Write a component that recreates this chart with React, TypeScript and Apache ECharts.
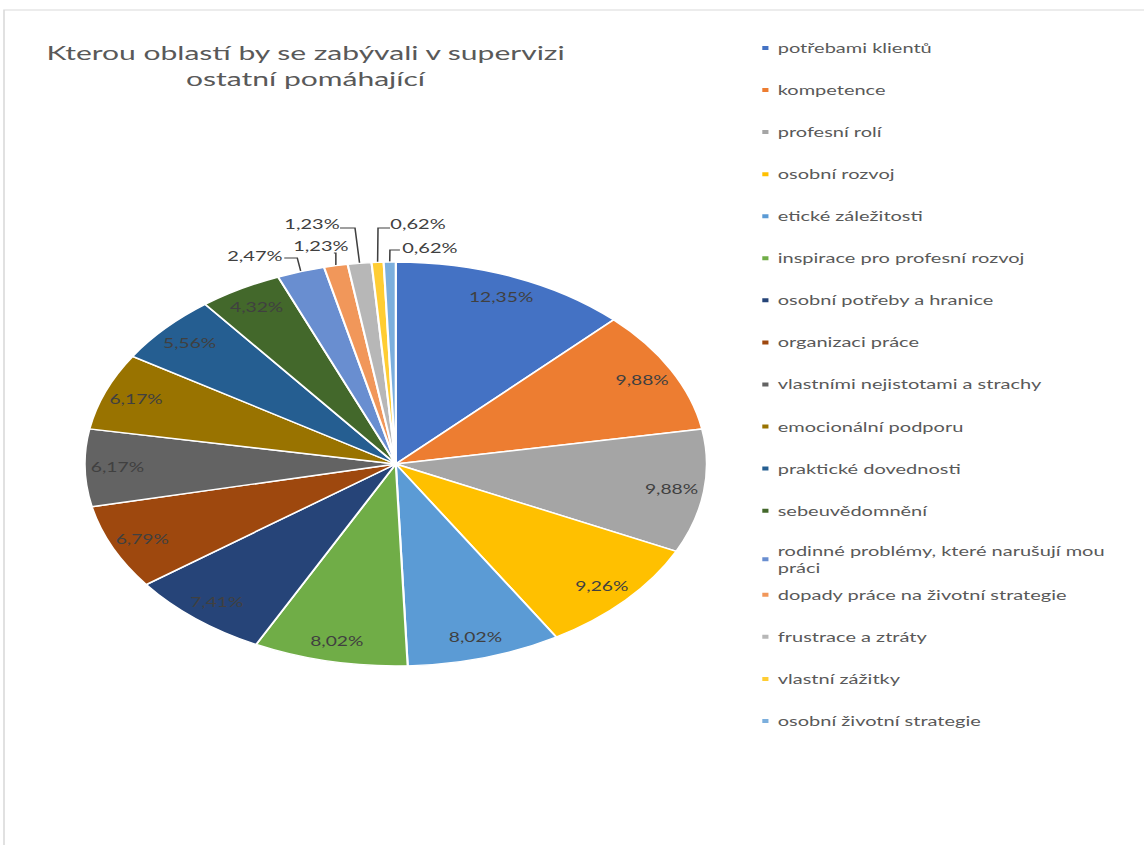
import React, { useEffect, useRef } from 'react';
import * as echarts from 'echarts';

const titleText = 'Kterou oblastí by se zabývali v supervizi\nostatní pomáhající';

const categories = [
  'potřebami klientů',
  'kompetence',
  'profesní rolí',
  'osobní rozvoj',
  'etické záležitosti',
  'inspirace pro profesní rozvoj',
  'osobní potřeby a hranice',
  'organizaci práce',
  'vlastními nejistotami a strachy',
  'emocionální podporu',
  'praktické dovednosti',
  'sebeuvědomnění',
  'rodinné problémy, které narušují mou práci',
  'dopady práce na životní strategie',
  'frustrace a ztráty',
  'vlastní zážitky',
  'osobní životní strategie',
];

const values = [12.35, 9.88, 9.88, 9.26, 8.02, 8.02, 7.41, 6.79, 6.17, 6.17, 5.56, 4.32, 2.47, 1.23, 1.23, 0.62, 0.62];

const colors = [
  '#4472C4', '#ED7D31', '#A5A5A5', '#FFC000', '#5B9BD5', '#70AD47',
  '#264478', '#9E480E', '#636363', '#997300', '#255E91', '#43682B',
  '#698ED0', '#F1975A', '#B7B7B7', '#FFCD33', '#7CAFDD',
];

// small slices get outside labels with leader lines
const outsideFrom = 12;
// legend entry whose text wraps onto a second line (last word goes down)
const wrappedLegendIndex = 12;

// leader-line styling for the outside labels (offsets from slice edge, in screen px):
// [elbow dx, elbow dy, end dx, label dx, label dy]
const leaderOffsets: Record<number, number[]> = {
  12: [-3.6, -13.7, -16.6, -46, -15.2],
  13: [0, -12.8, -2, -15, -19.8],
  14: [-4.6, -35.4, -19.6, -47.6, -39.4],
  15: [0.4, -34.3, 12.4, 40.4, -38.3],
  16: [0.2, -12, 10.2, 40.2, -14],
};

const SX = 1.54;
const W = 1144;
const H = 845;

export default function App() {
  const ref = useRef<HTMLDivElement>(null);
  useEffect(() => {
    const chart = echarts.init(ref.current!, null, { renderer: 'svg' });
    const fmt = (v: number) => v.toFixed(2).replace('.', ',') + '%';
    const font = 'Lato, "Open Sans", sans-serif';
    const R = 202;
    const center = [257, 464];
    const LH = 17;
    const STEP = 42.06;
    const LEG_TOP = 39.5;

    const mainData = values.map((v, i) => ({
      name: categories[i],
      value: v,
      itemStyle: { color: colors[i] },
      label: { show: i >= outsideFrom },
      labelLine: { show: i >= outsideFrom },
    }));
    const overlayData = values.map((v, i) => ({
      name: categories[i],
      value: v,
      label: { show: i < outsideFrom },
    }));
    const legendItem = (c: string, i: number) =>
      i === wrappedLegendIndex ? { name: c, textStyle: { padding: [0, 0, -LH, 0] } } : { name: c };
    const legendData1 = categories.slice(0, wrappedLegendIndex + 1).map((c, i) => legendItem(c, i));
    const legendData2 = categories.slice(wrappedLegendIndex + 1).map((c) => ({ name: c }));

    const legendBase = {
      orient: 'vertical',
      left: 493,
      padding: 0,
      icon: 'rect',
      itemWidth: 6,
      itemHeight: 6,
      itemGap: STEP - LH,
      selectedMode: false,
      formatter: (name: string) =>
        name === categories[wrappedLegendIndex] ? name.replace(/ (\S+)$/, '\n$1') : name,
      textStyle: {
        fontFamily: font,
        fontSize: 13,
        color: '#595959',
        lineHeight: LH,
      },
    };

    chart.setOption({
      animation: false,
      backgroundColor: '#ffffff',
      title: {
        text: titleText,
        left: 193.4,
        top: 34,
        textAlign: 'center',
        textStyle: {
          fontFamily: font,
          fontSize: 19.5,
          fontWeight: 'normal',
          color: '#595959',
          lineHeight: 26,
        },
      },
      legend: [
        { ...legendBase, top: LEG_TOP, data: legendData1 },
        { ...legendBase, top: LEG_TOP + STEP * (wrappedLegendIndex + 1), data: legendData2 },
      ],
      graphic: [
        {
          type: 'rect',
          shape: { x: 2.6, y: 10, width: 2000, height: 2000 },
          style: { fill: 'none', stroke: '#d9d9d9', lineWidth: 1 },
          silent: true,
          z: -10,
        },
      ],
      series: [
        {
          type: 'pie',
          name: 'main',
          center,
          radius: [0, R],
          startAngle: 90,
          clockwise: true,
          avoidLabelOverlap: false,
          itemStyle: { borderColor: '#ffffff', borderWidth: 1.4 },
          label: {
            position: 'outside',
            formatter: (p: any) => fmt(p.value),
            fontFamily: font,
            fontSize: 13,
            color: '#404040',
          },
          labelLine: {
            length: 12,
            length2: 6,
            lineStyle: { color: '#404040', width: 1 },
          },
          labelLayout: (p: any) => {
            const o = leaderOffsets[p.dataIndex];
            if (!o || !p.labelLinePoints) return {};
            const a = p.labelLinePoints[0];
            const ex = a[0] + o[0] / SX;
            const ey = a[1] + o[1];
            const tx = a[0] + o[2] / SX;
            return {
              x: a[0] + o[3] / SX,
              y: a[1] + o[4],
              align: 'center',
              verticalAlign: 'middle',
              labelLinePoints: [[a[0], a[1]], [ex, ey], [tx, ey]],
            };
          },
          data: mainData,
          emphasis: { disabled: true },
        },
        {
          type: 'pie',
          name: 'labels',
          center,
          radius: [R * 0.76, R],
          startAngle: 90,
          clockwise: true,
          silent: true,
          itemStyle: { color: 'rgba(0,0,0,0)', borderWidth: 0 },
          label: {
            position: 'inside',
            formatter: (p: any) => fmt(p.value),
            fontFamily: font,
            fontSize: 12.5,
            color: '#404040',
          },
          labelLine: { show: false },
          data: overlayData,
          emphasis: { disabled: true },
        },
      ],
    });
    return () => chart.dispose();
  }, []);

  return (
    <div style={{ position: 'fixed', left: 0, top: 0, width: W, height: H, overflow: 'hidden', background: '#fff' }}>
      <div
        ref={ref}
        style={{
          position: 'absolute',
          left: 0,
          top: 0,
          width: W / SX,
          height: H,
          transform: `scaleX(${SX})`,
          transformOrigin: '0 0',
        }}
      />
    </div>
  );
}
